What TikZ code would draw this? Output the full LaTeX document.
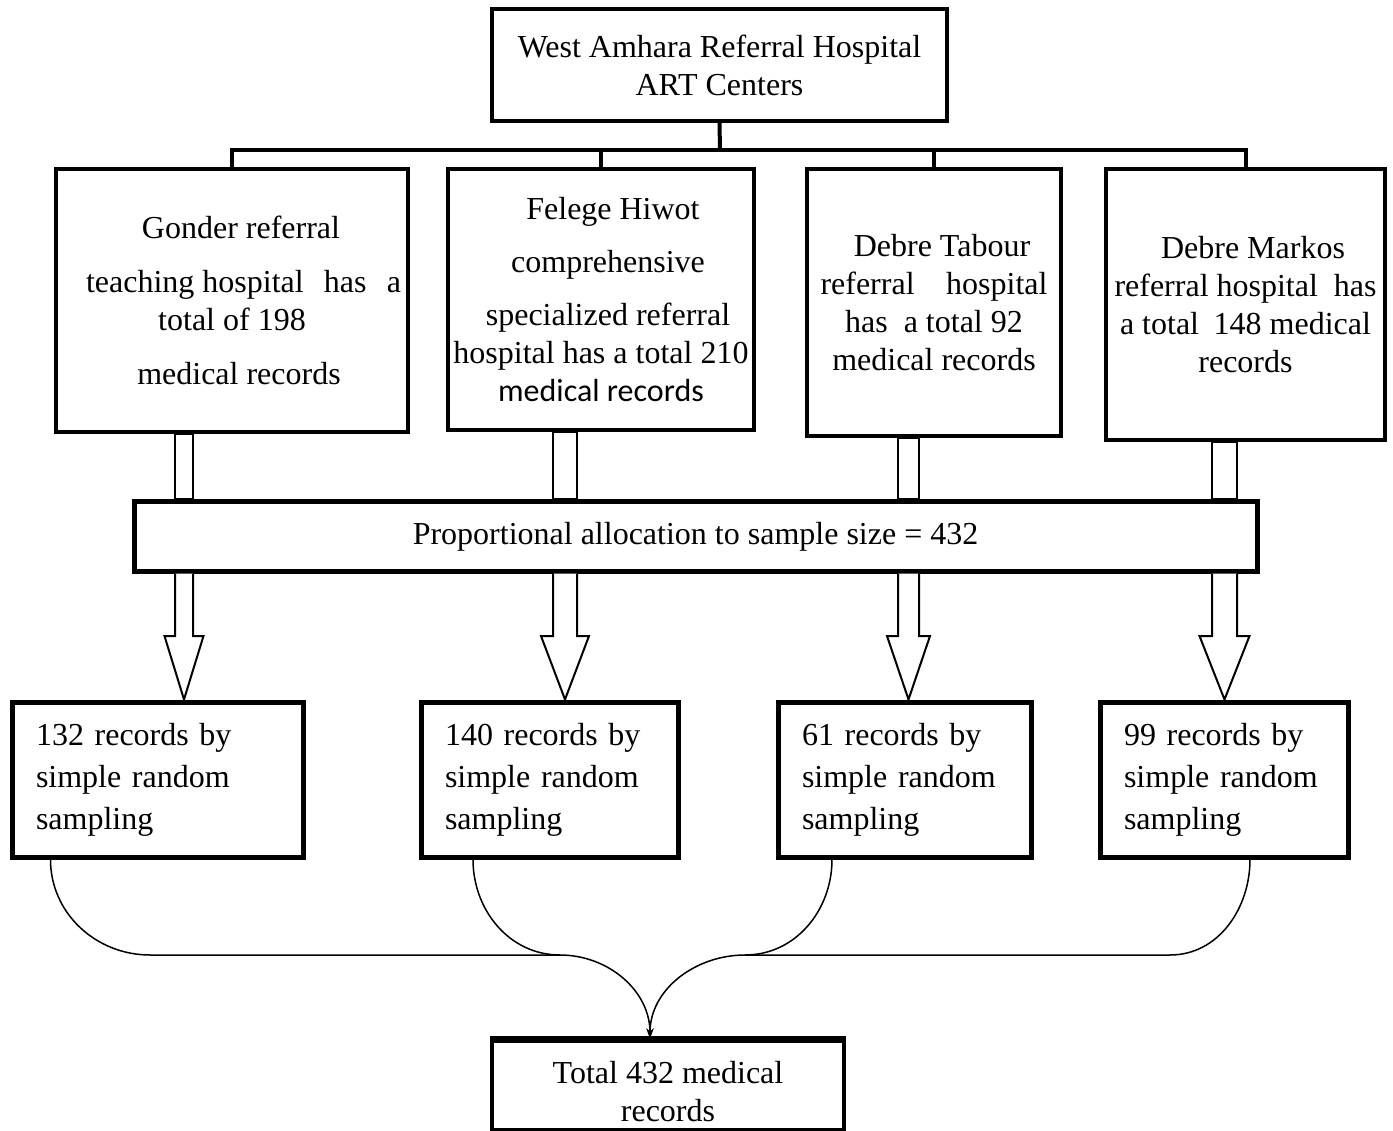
\documentclass[tikz,border=0pt]{standalone}
\usepackage{fontspec}
\setmainfont{Liberation Serif}
\newfontfamily\calibfont{Carlito}
\usetikzlibrary{arrows.meta,calc}
\newcommand\hollowarr[5]{%
  \pgfmathsetmacro\hxa{#1-#2/2}\pgfmathsetmacro\hxb{#1+#2/2}%
  \pgfmathsetmacro\hxc{#1-#3/2}\pgfmathsetmacro\hxd{#1+#3/2}%
  \draw[hollow] (\hxa,0 |- #4.south) rectangle (\hxb,0 |- prop.north);
  \draw[hollow] (\hxa,0 |- prop.south) -- (\hxa,636) -- (\hxc,636) -- (#1,0 |- #5.north) -- (\hxd,636) -- (\hxb,636) -- (\hxb,0 |- prop.south);
}
\begin{document}
\begin{tikzpicture}[x=1pt,y=-1pt,
  box/.style={draw, line width=4pt, inner sep=0pt, align=center, font=\fontsize{32}{38}\selectfont},
  sbox/.style={draw, line width=5pt, inner sep=0pt, align=left, font=\fontsize{32}{42}\selectfont},
  hollow/.style={draw, line width=2pt, fill=white, line join=miter},
  merge/.style={line width=1.5pt},
  busline/.style={line width=4pt}]
\useasboundingbox (0,0) rectangle (1393,1131);
\fill[white] (0,0) rectangle (1393,1131);

% top box
\node[box, minimum width=455, minimum height=112] (top) at (719.5,65)
  {West Amhara Referral Hospital\\ART Centers};

% hospital boxes
\node[box, minimum width=352, minimum height=263] (b1) at (232,300.5)
  {\hspace*{18pt}Gonder referral\\[16pt]
   \hspace*{23pt}\hbox to 315pt{teaching hospital\hfill has\hfill a}\\
   total of 198\\[16pt]
   \hspace*{14pt}medical records};
\node[box, minimum width=306, minimum height=261] (b2) at (601,299.5)
  {\hspace*{24pt}Felege Hiwot\\[15pt]
   \hspace*{14pt}comprehensive\\[15pt]
   \hspace*{14pt}specialized referral\\
   hospital has a total 210\\
   {\calibfont medical records}};
\node[box, minimum width=254, minimum height=267] (b3) at (934,302.5)
  {\hspace*{16pt}Debre Tabour\\
   \hbox to 227pt{referral\hfill hospital}\\
   has\ \ a total 92\\
   medical records};
\node[box, minimum width=279, minimum height=271] (b4) at (1245.5,304.5)
  {\hspace*{15pt}Debre Markos\\
   \hbox to 262pt{referral hospital\hfill has}\\
   \hbox to 251pt{a total\hfill 148 medical}\\
   records};

% bus lines
\coordinate (bus) at (720,150);
\draw[busline] (top.south) -- (bus);
\draw[busline] (b1.north) -- (b1.north |- bus) -- (b4.north |- bus) -- (b4.north);
\draw[busline] (b2.north) -- (b2.north |- bus);
\draw[busline] (b3.north) -- (b3.north |- bus);

% proportional allocation
\node[box, line width=5pt, minimum width=1123, minimum height=69] (prop) at (695.5,536.5)
  {Proportional allocation to sample size = 432};

% sample boxes
\node[sbox, minimum width=291, minimum height=155, text width=243] (b5) at (157.5,779.5)
  {132 records by\\simple random\\sampling};
\node[sbox, minimum width=257, minimum height=155, text width=209] (b6) at (549.5,779.5)
  {140 records by\\simple random\\sampling};
\node[sbox, minimum width=253, minimum height=155, text width=205] (b7) at (904.5,779.5)
  {61 records by\\simple random\\sampling};
\node[sbox, minimum width=248, minimum height=155, text width=200] (b8) at (1224,779.5)
  {99 records by\\simple random\\sampling};

% hollow arrows
\hollowarr{184}{18}{39}{b1}{b5}
\hollowarr{565}{24}{48}{b2}{b6}
\hollowarr{908.5}{21}{43}{b3}{b7}
\hollowarr{1224.5}{25}{50}{b4}{b8}

% total box
\node[box, minimum width=352, minimum height=89] (b9) at (668,1085)
  {\raisebox{-7pt}[\height][\depth]{Total 432 medical}\\
   \raisebox{-7pt}[\height][\depth]{records}};
\draw[line width=5pt] (b9.north west) -- (b9.north east);

% merging curves
\coordinate (jl) at (560,955);
\coordinate (jr) at (745,955);
\coordinate (tip) at ([xshift=-18pt]b9.north);
\draw[merge] ([xshift=41pt]b5.south west) to[out=-90,in=180] (150,955) -- (jl);
\draw[merge] ([xshift=-76.5pt]b6.south) to[out=-90,in=180] (jl);
\draw[merge, -{Stealth[length=10pt,width=7pt]}] (jl) to[out=0,in=90] (tip);
\draw[merge] ([xshift=26pt]b8.south) to[out=-90,in=0] (1170,955) -- (jr);
\draw[merge] ([xshift=-72.5pt]b7.south) to[out=-90,in=0] (jr);
\draw[merge, -{Stealth[length=10pt,width=7pt]}] (jr) to[out=180,in=90] (tip);
\end{tikzpicture}
\end{document}
